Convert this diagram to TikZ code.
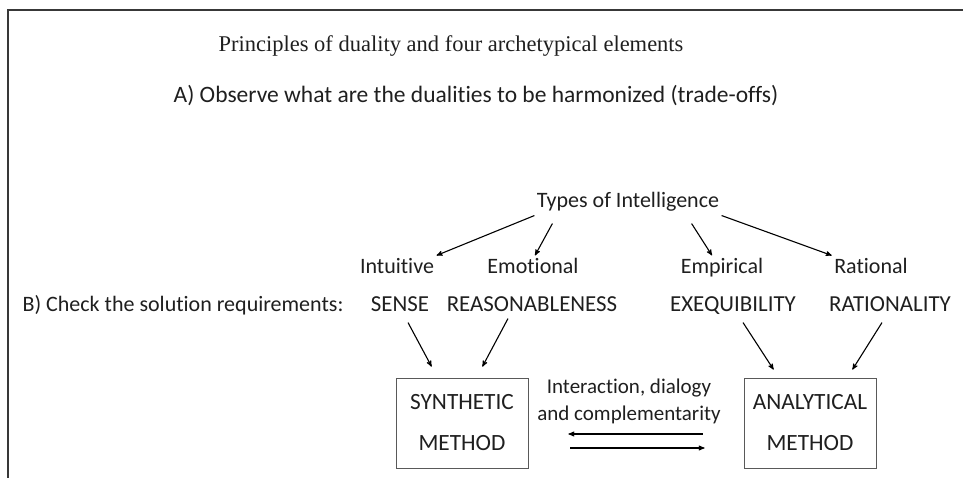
\documentclass[tikz,border=0pt]{standalone}
\usepackage{fontspec}
\setmainfont{Carlito}[Ligatures=NoCommon]
\newfontfamily\titlefont{Liberation Serif}
\usetikzlibrary{arrows}

\begin{document}
\begin{tikzpicture}[->,>=stealth',x=1pt,y=-1pt,line width=1.1pt,node distance=38pt,
		every node/.style={text=black!88,font=\fontsize{22}{26}\selectfont},
		word/.style={inner sep=2pt,text height=15pt,text depth=5pt},
		caps/.style={word,font=\fontsize{22.9}{26}\selectfont},
		method/.style={draw=black!65,line width=0.8pt,minimum width=132pt,minimum height=90pt,
			align=center,font=\fontsize{23.3}{41}\selectfont}]
			\useasboundingbox (0,0) rectangle (963,478);
			\draw[-,line width=2pt,black!78] (963,10) -| (8,478);
			\node[font=\titlefont\fontsize{22.5}{26}\selectfont] (title) at (451,46) {Principles of duality and four archetypical elements};
			\node[word,font=\fontsize{23.5}{26}\selectfont] (observe) at (476,98) {A) Observe what are the dualities to be harmonized (trade-offs)};
			\node[word] (types) at (628,203) {Types of Intelligence};
			\node[word] (intu) at (397,268) {Intuitive};
			\node[word] (emo)  at (533,268) {Emotional};
			\node[word] (emp)  at (722,268) {Empirical};
			\node[word] (rat)  at (871,268) {Rational};
			\node[caps, below of=intu, xshift=3pt]  (sense) {SENSE};
			\node[caps, below of=emo, xshift=-1pt]  (reas)  {REASONABLENESS};
			\node[caps, below of=emp, xshift=11pt]  (exe)   {EXEQUIBILITY};
			\node[caps, below of=rat, xshift=19pt]  (ratl)  {RATIONALITY};
			\node[word, anchor=west] (check) at (20,306) {B) Check the solution requirements:};
			\node[method] (syn) at (462,423) {SYNTHETIC\\METHOD};
			\node[method] (ana) at (810,423) {ANALYTICAL\\METHOD};
			\node[align=center,font=\fontsize{21}{27}\selectfont] (inter) at (629,401) {Interaction, dialogy\\and complementarity};
			\draw (types.south west) -- (intu.north east);
			\draw ([xshift=18pt,yshift=-8pt]types.south west) -- ([xshift=2pt]emo.north);
			\draw ([xshift=-30pt,yshift=-8pt]types.south east) -- ([xshift=-10pt]emp.north);
			\draw (types.south east) -- (rat.north west);
			\draw ([xshift=8pt,yshift=-4pt]sense.south) -- ([xshift=36pt,yshift=11pt]syn.north west);
			\draw ([xshift=-24pt]reas.south) -- ([xshift=-46pt,yshift=11pt]syn.north east);
			\draw ([xshift=10pt,yshift=-4pt]exe.south) -- ([xshift=30pt,yshift=8pt]ana.north west);
			\draw ([xshift=-8pt,yshift=-4pt]ratl.south) -- ([xshift=-24pt,yshift=8pt]ana.north east);
			\draw ([xshift=-41pt,yshift=-11pt]ana.west) -- ([xshift=40pt,yshift=-11pt]syn.east);
			\draw ([xshift=42pt,yshift=-25pt]syn.east) -- ([xshift=-39pt,yshift=-25pt]ana.west);
		\end{tikzpicture}
\end{document}
